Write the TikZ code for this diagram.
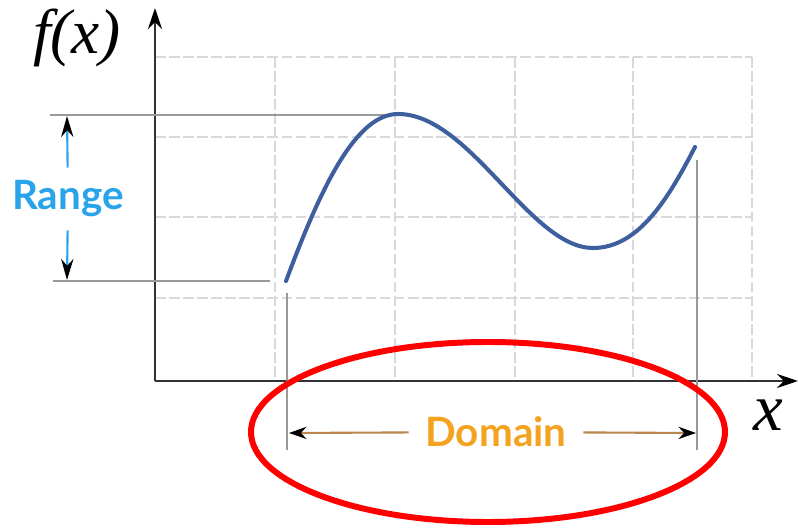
\documentclass[tikz,border=0pt]{standalone}
\usepackage{fontspec}
\setmainfont{Liberation Serif}
\newfontfamily\tagfont{Lato}
\usetikzlibrary{arrows.meta}
\definecolor{gridgray}{HTML}{D9D9D9}
\definecolor{axisgray}{HTML}{333333}
\definecolor{guidegray}{HTML}{9A9A9A}
\definecolor{curveblue}{HTML}{3D5F9E}
\definecolor{rangeblue}{HTML}{29A3EA}
\definecolor{domainorange}{HTML}{F4A321}
\definecolor{domainbrown}{HTML}{B8864E}
\begin{document}
\begin{tikzpicture}[x=0.02cm,y=-0.02cm,
  gridline/.style={draw=gridgray,line width=1.2pt,dash pattern=on 6pt off 2pt},
  axis/.style={draw=axisgray,line width=1.5pt,-{Stealth[length=12pt,width=8pt,black]}},
  guide/.style={draw=guidegray,line width=1pt},
  rangearrow/.style={draw=rangeblue,line width=1.2pt,shorten <=4pt,-{Stealth[length=12pt,width=7pt,black]}},
  domainarrow/.style={draw=domainbrown,line width=1.2pt,shorten <=6pt,-{Stealth[length=10pt,width=7pt,black]}}]
\useasboundingbox (0,0) rectangle (798,530);
\foreach \gx in {275,395,515,633,752} \path[gridline] (\gx,57) -- (\gx,381);
\foreach \gy in {57,137,217,298} \path[gridline] (155,\gy) -- (752,\gy);

\coordinate (O) at (155,381);
\coordinate (ytip) at (155,8);
\coordinate (xtip) at (798,381);
\path[axis] (O) -- (ytip);
\path[axis] (O) -- (xtip);

\path[guide] (50,115) -- (398,115);
\path[guide] (53,281) -- (270,281);
\path[guide] (287,293) -- (287,450);
\path[guide] (697,160) -- (697,450);

\path[draw=curveblue,line width=2.3pt,line cap=round] (286,281) .. controls (320,190) and (355,114) .. (398,114)
  .. controls (470,114) and (530,248) .. (593,248) .. controls (640,248) and (670,195) .. (695,147);

\node[text=rangeblue,font=\tagfont\bfseries\fontsize{23}{23}\selectfont] (range) at (68,199) {Range};
\coordinate (rtop) at (67,116);
\coordinate (rbot) at (67,280);
\path[rangearrow] (range) -- (rtop);
\path[rangearrow] (range) -- (rbot);

\node[text=domainorange,font=\tagfont\bfseries\fontsize{23}{23}\selectfont] (domain) at (496,432) {Domain};
\coordinate (dleft) at (289,433);
\coordinate (dright) at (696,433);
\path[domainarrow] (domain) -- (dleft);
\path[domainarrow] (domain) -- (dright);

\node[font=\fontsize{36}{36}\selectfont\itshape] (fx) at (77,38) {f(x)};
\node[font=\fontsize{38}{38}\selectfont\itshape] (xlabel) at (768,415) {x};

\draw[red,line width=3.4pt] (488,432) ellipse [x radius=237, y radius=90];
\end{tikzpicture}
\end{document}
